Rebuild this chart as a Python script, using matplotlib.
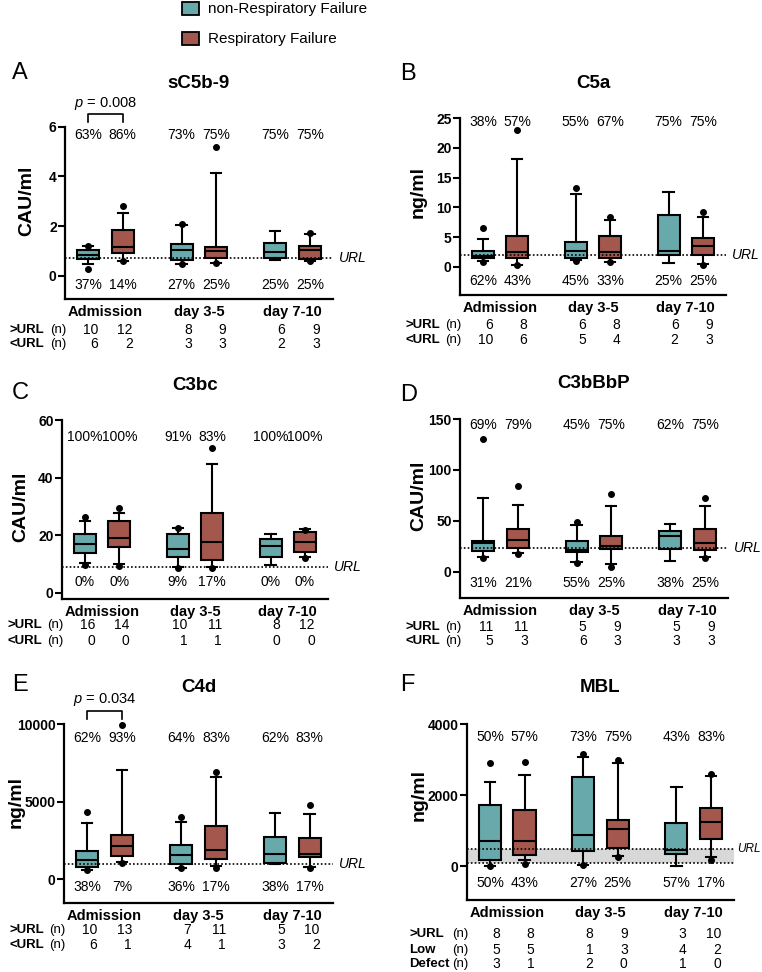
import matplotlib
matplotlib.use('Agg')
import matplotlib.pyplot as plt
import matplotlib.transforms as mtransforms
from matplotlib.patches import Rectangle

# ---------------- data ----------------
groups = ['Admission', 'day 3-5', 'day 7-10']
series = ['non-Respiratory Failure', 'Respiratory Failure']
# order of boxes: Adm nonRF, Adm RF, d3-5 nonRF, d3-5 RF, d7-10 nonRF, d7-10 RF

# A: sC5b-9 (CAU/ml)
a_whislo = [0.47, 0.60, 0.48, 0.51, 0.64, 0.60]
a_q1 = [0.68, 0.90, 0.62, 0.70, 0.72, 0.68]
a_med = [0.83, 1.15, 1.05, 0.99, 0.97, 1.02]
a_q3 = [1.02, 1.84, 1.26, 1.14, 1.32, 1.21]
a_whishi = [1.19, 2.54, 2.03, 4.15, 1.80, 1.68]
a_fliers = [[0.26, 1.21], [0.59, 2.80], [0.47, 2.10], [0.50, 5.20], [], [0.58, 1.70]]
a_url = 0.7
a_pct_above = [63, 86, 73, 75, 75, 75]
a_pct_below = [37, 14, 27, 25, 25, 25]
a_n_above = [10, 12, 8, 9, 6, 9]
a_n_below = [6, 2, 3, 3, 2, 3]

# B: C5a (ng/ml)
b_whislo = [1.0, 0.34, 1.12, 0.84, 0.56, 0.45]
b_q1 = [1.4, 1.4, 1.52, 1.4, 2.0, 1.9]
b_med = [1.85, 2.53, 2.7, 2.53, 2.6, 3.43]
b_q3 = [2.6, 5.17, 4.16, 5.17, 8.76, 4.78]
b_whishi = [4.7, 18.1, 12.2, 7.87, 12.5, 8.3]
b_fliers = [[0.84, 6.5], [0.28, 23.0], [1.0, 13.26], [0.79, 8.43], [], [0.34, 9.16]]
b_url = 1.9
b_pct_above = [38, 57, 55, 67, 75, 75]
b_pct_below = [62, 43, 45, 33, 25, 25]
b_n_above = [6, 8, 6, 8, 6, 9]
b_n_below = [10, 6, 5, 4, 2, 3]

# C: C3bc (CAU/ml)
c_whislo = [10.5, 10.0, 9.0, 9.0, 9.6, 12.3]
c_q1 = [13.9, 16.0, 12.5, 11.6, 12.3, 14.3]
c_med = [17.1, 19.2, 15.2, 17.6, 16.3, 17.7]
c_q3 = [20.6, 24.8, 20.4, 27.6, 18.7, 21.0]
c_whishi = [24.9, 27.8, 22.7, 44.7, 20.6, 22.1]
c_fliers = [[9.6, 26.4], [9.5, 29.3], [8.8, 22.7], [8.8, 50.2], [], [12.1, 21.8]]
c_url = 9.0
c_pct_above = [100, 100, 91, 83, 100, 100]
c_pct_below = [0, 0, 9, 17, 0, 0]
c_n_above = [16, 14, 10, 11, 8, 12]
c_n_below = [0, 0, 1, 1, 0, 0]

# D: C3bBbP (CAU/ml)
d_whislo = [14.4, 18.6, 9.5, 7.8, 11.1, 14.4]
d_q1 = [20.9, 23.5, 19.3, 22.5, 22.5, 21.9]
d_med = [28.0, 31.0, 21.9, 25.8, 35.0, 28.4]
d_q3 = [30.7, 42.2, 30.0, 35.6, 39.9, 42.2]
d_whishi = [72.5, 66.0, 45.8, 65.0, 47.4, 65.0]
d_fliers = [[13.4, 130.7], [17.6, 84.3], [8.8, 48.7], [4.9, 76.5], [], [14.0, 72.5]]
d_url = 23.5
d_pct_above = [69, 79, 45, 75, 62, 75]
d_pct_below = [31, 21, 55, 25, 38, 25]
d_n_above = [11, 11, 5, 9, 5, 9]
d_n_below = [5, 3, 6, 3, 3, 3]

# E: C4d (ng/ml)
e_whislo = [601, 1073, 708, 815, 987, 773]
e_q1 = [773, 1502, 987, 1288, 1030, 1416]
e_med = [1245, 2103, 1567, 1888, 1631, 1610]
e_q3 = [1824, 2811, 2210, 3391, 2704, 2640]
e_whishi = [3605, 7039, 3670, 6610, 4249, 4185]
e_fliers = [[558, 4313], [1030, 9914], [708, 3970], [708, 6932], [], [708, 4743]]
e_url = 1000
e_pct_above = [62, 93, 64, 83, 62, 83]
e_pct_below = [38, 7, 36, 17, 38, 17]
e_n_above = [10, 13, 7, 11, 5, 10]
e_n_below = [6, 1, 4, 1, 3, 2]

# F: MBL (ng/ml)
f_whislo = [0, 169, 47, 282, 19, 263]
f_q1 = [169, 319, 441, 507, 347, 770]
f_med = [714, 704, 883, 1052, 470, 1239]
f_q3 = [1728, 1577, 2517, 1305, 1221, 1634]
f_whishi = [2366, 2573, 3080, 2911, 2244, 2535]
f_fliers = [[19, 2911], [75, 2930], [38, 3155], [263, 2995], [], [188, 2601]]
f_url = 500
f_defect = 100
f_pct_above = [50, 57, 73, 75, 43, 83]
f_pct_below = [50, 43, 27, 25, 57, 17]
f_n_above = [8, 8, 8, 9, 3, 10]
f_n_low = [5, 5, 1, 3, 4, 2]
f_n_defect = [3, 1, 2, 0, 1, 0]

# ---------------- style ----------------
TEAL = '#68A9AC'
RED = '#A4574D'
plt.rcParams['font.family'] = 'Liberation Sans'
plt.rcParams['mathtext.fontset'] = 'custom'
plt.rcParams['mathtext.rm'] = 'Liberation Sans'
plt.rcParams['mathtext.it'] = 'Liberation Sans:italic'

W, H = 762, 972
fig = plt.figure(figsize=(W / 100, H / 100), dpi=100)


def fx(px):
    return px / W


def fy(py):
    return 1 - py / H


positions = [0, 1, 2.7, 3.7, 5.4, 6.4]
group_centers = [0.5, 3.2, 5.9]
XLIM = (-0.667, 7.07)


def draw_panel(box, letter, letter_xy, title, title_y, ylabel, ylabel_x, yticks, ybottom,
               whislo, q1, med, q3, whishi, fliers, url, pct_above, pct_below,
               pct_fracs, rows, row_ys, pval=None, band=None, url_size=10, url_off=4,
               label_off=55):
    l, t, r, b = box
    ax = fig.add_axes([fx(l), fy(b), (r - l) / W, (b - t) / H])
    stats = []
    for i in range(6):
        stats.append(dict(whislo=whislo[i], q1=q1[i], med=med[i], q3=q3[i],
                          whishi=whishi[i], fliers=fliers[i]))
    bp = ax.bxp(stats, positions=positions, widths=0.64, patch_artist=True,
                capwidths=0.3,
                boxprops=dict(edgecolor='black', linewidth=1.5),
                medianprops=dict(color='black', linewidth=1.5),
                whiskerprops=dict(color='black', linewidth=1.5),
                capprops=dict(color='black', linewidth=1.5),
                flierprops=dict(marker='o', markerfacecolor='black',
                                markeredgecolor='black', markersize=4))
    for i, patch in enumerate(bp['boxes']):
        patch.set_facecolor(TEAL if i % 2 == 0 else RED)
        patch.set_zorder(3)
    for key in ('medians', 'whiskers', 'caps', 'fliers'):
        for art in bp[key]:
            art.set_zorder(4)
    for art in bp['fliers']:
        art.set_clip_on(False)

    ax.set_xlim(*XLIM)
    ax.set_ylim(ybottom, yticks[-1])
    for s in ('top', 'right'):
        ax.spines[s].set_visible(False)
    for s in ('left', 'bottom'):
        ax.spines[s].set_linewidth(1.6)
    ax.set_yticks(yticks)
    ax.set_yticklabels([str(v) for v in yticks], fontweight='bold', fontsize=10)
    ax.tick_params(axis='y', length=5, width=1.5, pad=1)
    ax.set_xticks(group_centers)
    ax.set_xticklabels(groups, fontweight='bold', fontsize=10.5)
    ax.tick_params(axis='x', length=0, pad=4)

    # reference line(s)
    if band is not None:
        ax.axhspan(band, url, color='#d8d8d8', zorder=1, lw=0)
        ax.axhline(band, color='black', lw=1.2, ls=(0, (1, 1.3)), zorder=5)
    ax.axhline(url, color='black', lw=1.2, ls=(0, (1, 1.3)), zorder=5)
    ax.annotate('URL', xy=(1, url), xycoords=('axes fraction', 'data'),
                xytext=(url_off, 0), textcoords='offset points', style='italic',
                va='center', ha='left', fontsize=url_size, annotation_clip=False)

    trans_pct = mtransforms.blended_transform_factory(ax.transData, ax.transAxes)
    for i, p in enumerate(positions):
        ax.text(p, pct_fracs[0], f'{pct_above[i]}%', transform=trans_pct,
                ha='center', va='center', fontsize=10)
        ax.text(p, pct_fracs[1], f'{pct_below[i]}%', transform=trans_pct,
                ha='center', va='center', fontsize=10)

    # tables under the axes
    trans_row = mtransforms.blended_transform_factory(ax.transData, fig.transFigure)
    for (label, values), ry in zip(rows, row_ys):
        fig.text(fx(l - label_off), fy(ry), label, fontweight='bold', fontsize=9.5,
                 ha='left', va='center')
        fig.text(fx(l + 1), fy(ry), '(n)', fontsize=9.5, ha='right', va='center')
        for i, p in enumerate(positions):
            ax.text(p + 0.29, fy(ry), str(values[i]), transform=trans_row,
                    ha='right', va='center', fontsize=10)

    # letters, titles, y labels
    fig.text(fx(letter_xy[0]), fy(letter_xy[1]), letter, fontsize=17,
             ha='left', va='center')
    fig.text(fx((l + r) / 2), fy(title_y), title, fontsize=13.5,
             fontweight='bold', ha='center', va='center')
    trans_yl = mtransforms.blended_transform_factory(fig.transFigure, ax.transData)
    ax.text(fx(ylabel_x), yticks[-1] / 2, ylabel, transform=trans_yl, rotation=90,
            fontsize=14, fontweight='bold', ha='center', va='center')

    if pval is not None:
        x0, x1 = positions[0], positions[1]
        ax.plot([x0, x0, x1, x1], [1.027, 1.074, 1.074, 1.027], transform=trans_pct,
                color='black', lw=1.2, clip_on=False)
        ax.text((x0 + x1) / 2, 1.137, r'$\it{p}$ = ' + pval, transform=trans_pct,
                ha='center', va='center', fontsize=10.5)
    return ax


draw_panel((65, 126.7, 333, 299.3), 'A', (12, 73), 'sC5b-9', 83, 'CAU/ml', 27,
           [0, 2, 4, 6], -0.95,
           a_whislo, a_q1, a_med, a_q3, a_whishi, a_fliers, a_url,
           a_pct_above, a_pct_below, (0.952, 0.083),
           [('>URL', a_n_above), ('<URL', a_n_below)], [330, 344], pval='0.008')

draw_panel((460, 118.3, 726, 295), 'B', (400, 74), 'C5a', 83, 'ng/ml', 418,
           [0, 5, 10, 15, 20, 25], -4.77,
           b_whislo, b_q1, b_med, b_q3, b_whishi, b_fliers, b_url,
           b_pct_above, b_pct_below, (0.981, 0.081),
           [('>URL', b_n_above), ('<URL', b_n_below)], [325, 340])

draw_panel((62, 420, 328, 599), 'C', (12, 393), 'C3bc', 385, 'CAU/ml', 21,
           [0, 20, 40, 60], -2.1,
           c_whislo, c_q1, c_med, c_q3, c_whishi, c_fliers, c_url,
           c_pct_above, c_pct_below, (0.905, 0.095),
           [('>URL', c_n_above), ('<URL', c_n_below)], [625, 641])

draw_panel((460, 419, 728, 598), 'D', (400, 395), 'C3bBbP', 383, 'CAU/ml', 419,
           [0, 50, 100, 150], -25.5,
           d_whislo, d_q1, d_med, d_q3, d_whishi, d_fliers, d_url,
           d_pct_above, d_pct_below, (0.966, 0.084),
           [('>URL', d_n_above), ('<URL', d_n_below)], [627, 641])

draw_panel((64, 724, 333, 903), 'E', (12, 685), 'C4d', 688, 'ng/ml', 16,
           [0, 5000, 10000], -1548,
           e_whislo, e_q1, e_med, e_q3, e_whishi, e_fliers, e_url,
           e_pct_above, e_pct_below, (0.922, 0.089),
           [('>URL', e_n_above), ('<URL', e_n_below)], [930, 945], pval='0.034')

draw_panel((467, 724.3, 734, 900), 'F', (400, 685), 'MBL', 688, 'ng/ml', 419,
           [0, 2000, 4000], -950,
           f_whislo, f_q1, f_med, f_q3, f_whishi, f_fliers, f_url,
           f_pct_above, f_pct_below, (0.929, 0.098),
           [('>URL', f_n_above), ('Low', f_n_low), ('Defect', f_n_defect)],
           [934, 950, 964], band=f_defect, url_size=8.5, url_off=2.5, label_off=58)

# legend
for i, (name, col) in enumerate(zip(series, [TEAL, RED])):
    yc = [8.5, 39][i]
    fig.add_artist(Rectangle((fx(182), fy(yc + 6.5)), 17 / W, 13 / H,
                             transform=fig.transFigure, facecolor=col,
                             edgecolor='black', linewidth=1.3))
    fig.text(fx(208), fy(yc), name, fontsize=11, ha='left', va='center')

fig.savefig('out.png', dpi=100)
